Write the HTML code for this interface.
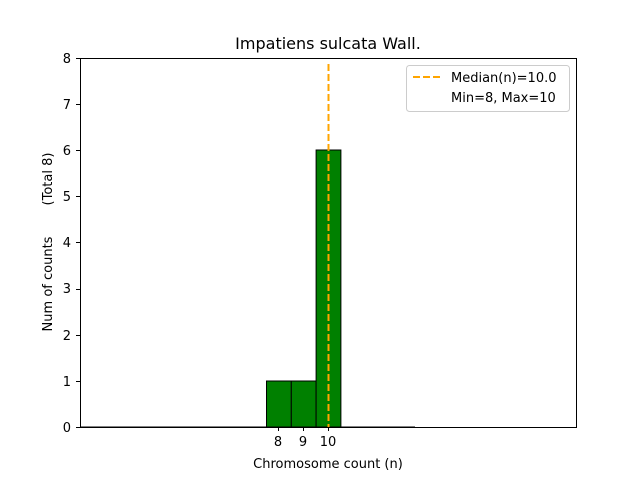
<!DOCTYPE html>
<html><head><style>body{margin:0;background:#fff}</style></head><body>
<svg width="640" height="480" xmlns="http://www.w3.org/2000/svg" font-family="DejaVu Sans, Liberation Sans, sans-serif">
<rect width="640" height="480" fill="#fff"/>
<text x="328" y="49" font-size="16" text-anchor="middle">Impatiens sulcata Wall.</text>
<line x1="80" y1="427" x2="415" y2="427" stroke="#000" stroke-width="1"/>
<rect x="266.5" y="381" width="24.8" height="46" fill="#008000" stroke="#000"/>
<rect x="291.3" y="381" width="24.8" height="46" fill="#008000" stroke="#000"/>
<rect x="316.1" y="150" width="24.8" height="277" fill="#008000" stroke="#000"/>
<line x1="328.5" y1="64" x2="328.5" y2="427" stroke="#ffa500" stroke-width="2" stroke-dasharray="7,3"/>
<rect x="80.5" y="58.5" width="496" height="369" fill="none" stroke="#000"/>
<g font-size="13" text-anchor="end">
<text x="71" y="432">0</text><text x="71" y="386">1</text><text x="71" y="340">2</text><text x="71" y="293">3</text><text x="71" y="247">4</text><text x="71" y="201">5</text><text x="71" y="155">6</text><text x="71" y="109">7</text><text x="71" y="63">8</text>
</g>
<g stroke="#000">
<line x1="76" x2="80" y1="427.5" y2="427.5"/><line x1="76" x2="80" y1="381.5" y2="381.5"/><line x1="76" x2="80" y1="335.5" y2="335.5"/><line x1="76" x2="80" y1="289.5" y2="289.5"/><line x1="76" x2="80" y1="242.5" y2="242.5"/><line x1="76" x2="80" y1="196.5" y2="196.5"/><line x1="76" x2="80" y1="150.5" y2="150.5"/><line x1="76" x2="80" y1="104.5" y2="104.5"/><line x1="76" x2="80" y1="58.5" y2="58.5"/>
<line x1="278.5" x2="278.5" y1="427" y2="431"/><line x1="303.5" x2="303.5" y1="427" y2="431"/><line x1="328.5" x2="328.5" y1="427" y2="431"/>
</g>
<g font-size="13" text-anchor="middle">
<text x="278" y="446">8</text><text x="303" y="446">9</text><text x="328" y="446">10</text>
<text x="328" y="468">Chromosome count (n)</text>
</g>
<text transform="translate(52,284) rotate(-90)" font-size="13" text-anchor="middle">Num of counts</text>
<text transform="translate(52,179) rotate(-90)" font-size="13" text-anchor="middle">(Total 8)</text>
<rect x="406.5" y="65.5" width="163" height="46" rx="3" fill="#fff" stroke="#ccc"/>
<line x1="413" x2="441" y1="77" y2="77" stroke="#ffa500" stroke-width="2" stroke-dasharray="7,3"/>
<text x="451" y="82" font-size="13">Median(n)=10.0</text>
<text x="451" y="102" font-size="13">Min=8, Max=10</text>
</svg>
</body></html>
